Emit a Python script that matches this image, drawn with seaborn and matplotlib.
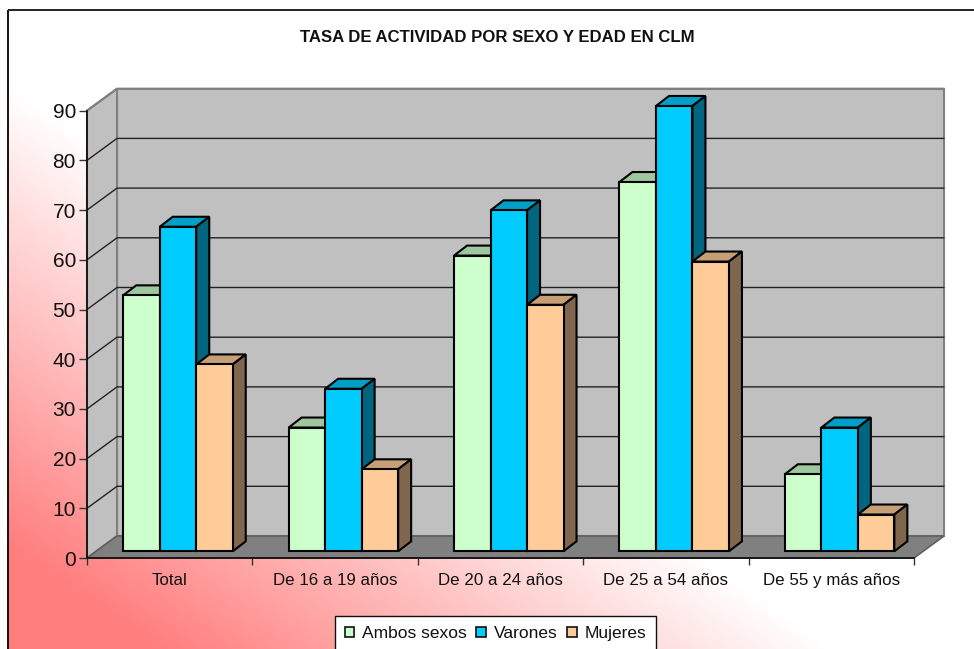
import numpy as np
import pandas as pd
import matplotlib
matplotlib.use("Agg")
import matplotlib.pyplot as plt
from matplotlib.patches import Polygon, Patch
from matplotlib.colors import to_rgb
import seaborn as sns

categories = ["Total", "De 16 a 19 años", "De 20 a 24 años", "De 25 a 54 años", "De 55 y más años"]
ambos = [51.5, 24.9, 59.5, 74.3, 15.5]
varones = [65.3, 32.7, 68.6, 89.6, 24.9]
mujeres = [37.6, 16.5, 49.6, 58.3, 7.4]
series = ["Ambos sexos", "Varones", "Mujeres"]
colors = ["#CCFFCC", "#00CCFF", "#FFCC99"]
yticks = list(range(0, 100, 10))
title = "TASA DE ACTIVIDAD POR SEXO Y EDAD EN CLM"

sns.set_style("white")
plt.rcParams["font.family"] = ["Liberation Sans", "DejaVu Sans"]

W, H = 974, 649
fig = plt.figure(figsize=(W / 100, H / 100), dpi=100)

# background gradient, only inside the chart frame
bg = fig.add_axes([0, 0, 1, 1], zorder=0)
bg.set_axis_off()
yy, xx = np.mgrid[0:H, 0:W]
t = np.clip((xx - 153) * 0.0015 + (640 - yy) * 0.0022, 0, 1)
t[(xx < 8) | (yy < 10)] = 1
img = np.dstack([np.ones_like(t), 0.5 + 0.5 * t, 0.5 + 0.5 * t])
bg.imshow(img, aspect="auto", extent=(0, W, H, 0), interpolation="nearest")
bg.set_xlim(0, W)
bg.set_ylim(H, 0)
bg.plot([7.5, 7.5], [H, 10], color="#111111", lw=1.4, solid_capstyle="butt")
bg.plot([7.5, W], [10, 10], color="#222222", lw=1.4, solid_capstyle="butt")

# main axes = front plane of the 3D box
x0, x1, y0, y90 = 87, 914, 558, 110.7
ax = fig.add_axes([x0 / W, 1 - y0 / H, (x1 - x0) / W, (y0 - y90) / H], zorder=1)
ax.patch.set_alpha(0)

df = pd.DataFrame({
    "grupo": categories * 3,
    "serie": np.repeat(series, len(categories)),
    "tasa": ambos + varones + mujeres,
})
sns.barplot(data=df, x="grupo", y="tasa", hue="serie", hue_order=series, order=categories,
            palette=colors, width=0.662, gap=0, saturation=1, edgecolor="black",
            linewidth=1.5, legend=False, ax=ax)
bars = sorted(ax.patches, key=lambda p: p.get_x())

ax.set_xlim(-0.5, 4.5)
ax.set_ylim(0, 90)
ax.set_xlabel("")
ax.set_ylabel("")
px_x = (x1 - x0) / 5
px_y = (y0 - y90) / 90
wall_dx, wall_dy = 30 / px_x, 22 / px_y
bar_sx, bar_sy = 8.3 / px_x, 6.7 / px_y
bar_dx, bar_dy = 13 / px_x, 10 / px_y

# walls and floor
L, R = -0.5, 4.5
ax.add_patch(Polygon([(L + wall_dx, wall_dy), (R + wall_dx, wall_dy), (R + wall_dx, 90 + wall_dy), (L + wall_dx, 90 + wall_dy)],
                     closed=True, fc="#C0C0C0", ec="#808080", lw=1.5, zorder=0.5, clip_on=False))
ax.add_patch(Polygon([(L, 0), (L + wall_dx, wall_dy), (L + wall_dx, 90 + wall_dy), (L, 90)],
                     closed=True, fc="#C0C0C0", ec="#808080", lw=1.5, zorder=0.6, clip_on=False))
ax.add_patch(Polygon([(L, 0), (R, 0), (R + wall_dx, wall_dy), (L + wall_dx, wall_dy)],
                     closed=True, fc="#808080", ec="#606060", lw=1.2, zorder=0.7, clip_on=False))
for v in yticks[1:]:
    ax.plot([L, L + wall_dx, R + wall_dx], [v, v + wall_dy, v + wall_dy], color="#222222" if v < 90 else "#808080",
            lw=1.0 if v < 90 else 1.5, zorder=0.8, clip_on=False, solid_joinstyle="miter")

# bars with faked depth
for i, b in enumerate(bars):
    b.set_x(b.get_x() + bar_sx)
    b.set_y(bar_sy)
    xa, w, h = b.get_x(), b.get_width(), b.get_height()
    c = np.array(to_rgb(b.get_facecolor()))
    z = 2 + i * 0.1
    top = h + bar_sy
    ax.add_patch(Polygon([(xa, top), (xa + w, top), (xa + w + bar_dx, top + bar_dy), (xa + bar_dx, top + bar_dy)],
                         closed=True, fc=c * 0.78, ec="black", lw=1.5, zorder=z, clip_on=False, joinstyle="miter"))
    ax.add_patch(Polygon([(xa + w, bar_sy), (xa + w + bar_dx, bar_sy + bar_dy), (xa + w + bar_dx, top + bar_dy), (xa + w, top)],
                         closed=True, fc=c * 0.5, ec="black", lw=1.5, zorder=z + 0.01, clip_on=False, joinstyle="miter"))
    b.set_zorder(z + 0.02)
    b.set_clip_on(False)

# axes decoration
sns.despine(ax=ax, top=True, right=True, left=False, bottom=False)
for s in ("left", "bottom"):
    ax.spines[s].set_color("#111111")
    ax.spines[s].set_linewidth(1.3)
    ax.spines[s].set_zorder(1)
ax.set_yticks(yticks)
ax.tick_params(axis="y", left=True, length=5.5, width=1, color="#333333", labelsize=15, pad=2.5, labelcolor="#111111")
ax.set_xticks(np.arange(-0.5, 5, 1))
ax.set_xticklabels([])
ax.set_xticks(np.arange(5), labels=categories, minor=True)
ax.tick_params(axis="x", which="major", bottom=True, length=5, width=1, color="#333333")
ax.tick_params(axis="x", which="minor", bottom=False, length=0, labelsize=12.2, pad=11, labelcolor="#111111")
ax.grid(False)

fig.text(497.5 / W, 1 - 37 / H, title, ha="center", va="center", fontsize=12.1, fontweight="bold", color="#111111")

handles = [Patch(facecolor=c, edgecolor="#111111", linewidth=1.2, label=s) for c, s in zip(colors, series)]
fig.legend(handles=handles, loc="center", bbox_to_anchor=(495.5 / W, 1 - 633.5 / H), ncol=3, frameon=True,
           fancybox=False, edgecolor="#111111", facecolor="white", framealpha=1, fontsize=12.5,
           handlelength=0.55, handleheight=0.55, handletextpad=0.45, columnspacing=0.55, borderpad=0.55,
           borderaxespad=0, labelcolor="#111111")

fig.savefig("out.png", dpi=100)
